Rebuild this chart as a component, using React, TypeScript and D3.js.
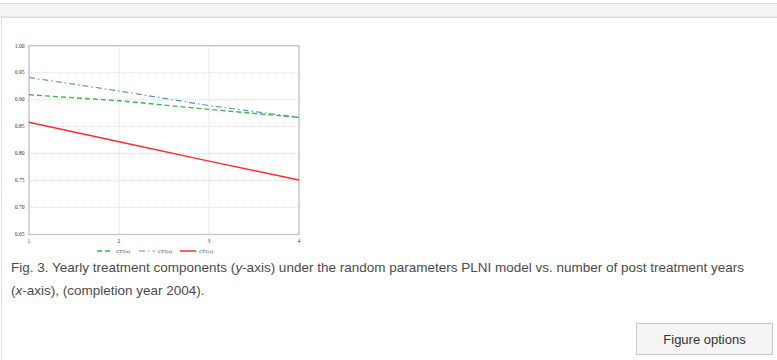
import React from "react";
import * as d3 from "d3";

const years = [1, 2, 3, 4];
const ct1 = [0.858, 0.822, 0.786, 0.751];
const ct2 = [0.909, 0.898, 0.882, 0.867];
const ct3 = [0.941, 0.916, 0.889, 0.867];
const yTicks = [0.65, 0.7, 0.75, 0.8, 0.85, 0.9, 0.95, 1.0];
const xTicks = [1, 2, 3, 4];
const legendLabels = ["CT2(x)", "CT3(x)", "CT1(x)"];

export default function App() {
  const x = d3.scaleLinear().domain([1, 4]).range([29, 299]);
  const y = d3.scaleLinear().domain([0.65, 1.0]).range([234.5, 45.7]);
  const line = d3
    .line<number>()
    .x((_, i) => x(years[i]))
    .y((d) => y(d));

  const series = [
    { data: ct2, color: "#3cb84a", dash: "5,3", w: 1.4 },
    { data: ct3, color: "#5b8fd4", dash: "6,3,1.5,3", w: 1.2 },
    { data: ct1, color: "#ff2a2a", dash: "", w: 1.5 },
  ];
  const legendX = [97, 139, 180];

  return (
    <svg
      width={777}
      height={360}
      style={{ position: "absolute", left: 0, top: 0, background: "#fff" }}
    >
      {/* top band */}
      <rect x={-1} y={3.5} width={779} height={13.5} fill="#f4f4f4" stroke="#dcdcdc" />
      {/* panel */}
      <rect x={1.5} y={17.5} width={800} height={400} fill="#fff" stroke="#dedede" />

      {/* grid */}
      {yTicks.map((t) => (
        <line
          key={"gy" + t}
          x1={x(1)}
          x2={x(4)}
          y1={y(t)}
          y2={y(t)}
          stroke="#d4d4c0"
          strokeWidth={0.8}
          strokeDasharray="1,1"
        />
      ))}
      {xTicks.map((t) => (
        <line
          key={"gx" + t}
          x1={x(t)}
          x2={x(t)}
          y1={y(1.0)}
          y2={y(0.65)}
          stroke="#c4c8d4"
          strokeWidth={0.8}
          strokeDasharray="1,1"
        />
      ))}
      {/* plot border */}
      <rect
        x={x(1)}
        y={y(1.0)}
        width={x(4) - x(1)}
        height={y(0.65) - y(1.0)}
        fill="none"
        stroke="#c4c4c4"
        strokeWidth={1.3}
      />

      {/* y tick labels */}
      {yTicks.map((t) => (
        <text
          key={"ty" + t}
          x={24.5}
          y={y(t) + 1.8}
          fontSize={5.6}
          fontFamily="Liberation Serif, serif"
          textAnchor="end"
          fill="#333"
        >
          {t.toFixed(2)}
        </text>
      ))}
      {xTicks.map((t) => (
        <text
          key={"tx" + t}
          x={x(t)}
          y={242.5}
          fontSize={5.6}
          fontFamily="Liberation Serif, serif"
          textAnchor="middle"
          fill="#333"
        >
          {t}
        </text>
      ))}

      {/* lines */}
      {series.map((s, i) => (
        <path
          key={"s" + i}
          d={line(s.data) || ""}
          fill="none"
          stroke={s.color}
          strokeWidth={s.w}
          strokeDasharray={s.dash || undefined}
        />
      ))}

      {/* legend */}
      {series.map((s, i) => (
        <g key={"lg" + i}>
          <line
            x1={legendX[i]}
            x2={legendX[i] + 16}
            y1={251}
            y2={251}
            stroke={s.color}
            strokeWidth={s.w}
            strokeDasharray={s.dash || undefined}
          />
          <text
            x={legendX[i] + 19}
            y={252.7}
            fontSize={5}
            fontFamily="Liberation Serif, serif"
            fontStyle="italic"
            fill="#333"
          >
            {legendLabels[i]}
          </text>
        </g>
      ))}

      {/* caption */}
      <text x={11} y={272} fontSize={13.5} fontFamily="Liberation Sans, Arial, sans-serif" fill="#4a4a4a">
        Fig. 3. Yearly treatment components (<tspan fontStyle="italic">y</tspan>-axis) under the random parameters PLNI model vs. number of post treatment years
      </text>
      <text x={11} y={295} fontSize={13.5} fontFamily="Liberation Sans, Arial, sans-serif" fill="#4a4a4a">
        (<tspan fontStyle="italic">x</tspan>-axis), (completion year 2004).
      </text>

      {/* button */}
      <rect x={636.5} y={323.5} width={136} height={31} fill="#f4f4f4" stroke="#c8c8c8" />
      <text
        x={704.5}
        y={343.5}
        fontSize={13}
        fontFamily="Liberation Sans, Arial, sans-serif"
        textAnchor="middle"
        fill="#333"
      >
        Figure options
      </text>
    </svg>
  );
}
